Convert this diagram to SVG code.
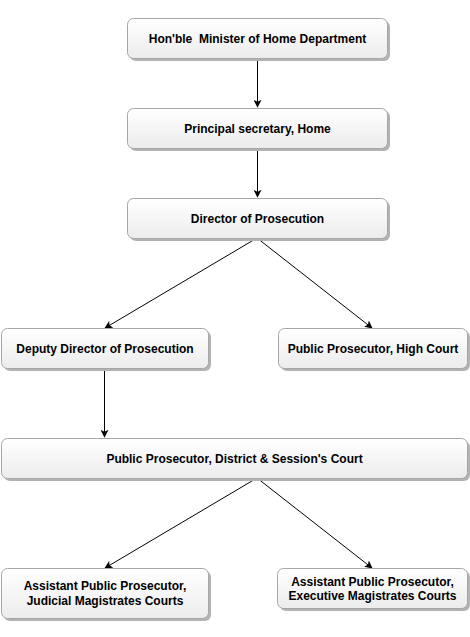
<svg xmlns="http://www.w3.org/2000/svg" width="470" height="637" viewBox="0 0 470 637">
<defs>
<linearGradient id="g" x1="0" y1="0" x2="0" y2="1">
<stop offset="0" stop-color="#ffffff"/>
<stop offset="1" stop-color="#ececec"/>
</linearGradient>
<marker id="arr" viewBox="0 0 10 10" refX="9" refY="5" markerWidth="8" markerHeight="8" markerUnits="userSpaceOnUse" orient="auto">
<path d="M0,0 L10,5 L0,10 L2.5,5 Z" fill="#000"/>
</marker>
</defs>
<style>
.sh{fill:#b3b3b3;}
.bx{fill:url(#g);stroke:#a6a6a6;stroke-width:1;}
.t{font-family:"Liberation Sans",Arial,Helvetica,sans-serif;font-size:12px;font-weight:bold;fill:#000;text-anchor:middle;white-space:pre;}
.e{stroke:#000;stroke-width:1;fill:none;marker-end:url(#arr);}
</style>
<g id="connectors">
<line class="e" x1="257.5" y1="58" x2="257.5" y2="107"/>
<line class="e" x1="257.5" y1="148" x2="257.5" y2="197"/>
<line class="e" x1="257" y1="238" x2="105" y2="328"/>
<line class="e" x1="257" y1="238" x2="372" y2="328"/>
<line class="e" x1="104.5" y1="368" x2="104.5" y2="437"/>
<line class="e" x1="257" y1="478" x2="105" y2="568"/>
<line class="e" x1="257" y1="478" x2="372" y2="568"/>
</g>
<g id="n1">
<rect class="sh" x="130" y="21" width="260" height="40" rx="6"/>
<rect class="bx" x="127.5" y="18.5" width="260" height="40" rx="6"/>
<text class="t" x="257.5" y="42.5" xml:space="preserve">Hon'ble  Minister of Home Department</text>
</g>
<g id="n2">
<rect class="sh" x="130" y="111" width="260" height="40" rx="6"/>
<rect class="bx" x="127.5" y="108.5" width="260" height="40" rx="6"/>
<text class="t" x="257.5" y="132.5">Principal secretary, Home</text>
</g>
<g id="n3">
<rect class="sh" x="130" y="201" width="260" height="40" rx="6"/>
<rect class="bx" x="127.5" y="198.5" width="260" height="40" rx="6"/>
<text class="t" x="257.5" y="222.5">Director of Prosecution</text>
</g>
<g id="n4">
<rect class="sh" x="4" y="331" width="207" height="40" rx="6"/>
<rect class="bx" x="1.5" y="328.5" width="207" height="40" rx="6"/>
<text class="t" x="105" y="352.5">Deputy Director of Prosecution</text>
</g>
<g id="n5">
<rect class="sh" x="281" y="331" width="189" height="40" rx="6"/>
<rect class="bx" x="278.5" y="328.5" width="189" height="40" rx="6"/>
<text class="t" x="373" y="352.5">Public Prosecutor, High Court</text>
</g>
<g id="n6">
<rect class="sh" x="4" y="441" width="466" height="40" rx="6"/>
<rect class="bx" x="1.5" y="438.5" width="466" height="40" rx="6"/>
<text class="t" x="234.5" y="462.5">Public Prosecutor, District &amp; Session's Court</text>
</g>
<g id="n7">
<rect class="sh" x="4" y="571" width="207" height="50" rx="6"/>
<rect class="bx" x="1.5" y="568.5" width="207" height="50" rx="6"/>
<text class="t" x="105" y="590">Assistant Public Prosecutor,</text>
<text class="t" x="105" y="605">Judicial Magistrates Courts</text>
</g>
<g id="n8">
<rect class="sh" x="280" y="571" width="190" height="40" rx="6"/>
<rect class="bx" x="277.5" y="568.5" width="190" height="40" rx="6"/>
<text class="t" x="372.5" y="586">Assistant Public Prosecutor,</text>
<text class="t" x="372.5" y="600">Executive Magistrates Courts</text>
</g>
</svg>
